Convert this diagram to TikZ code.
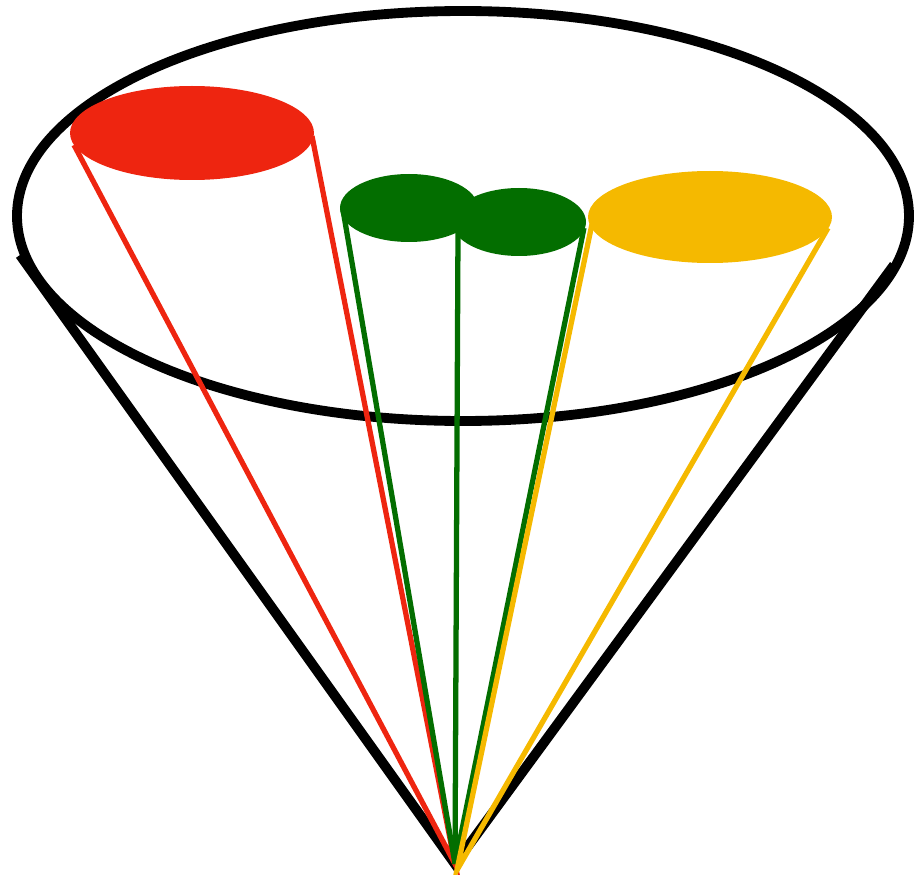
\documentclass[tikz,border=0pt]{standalone}
\usepackage{tikz}
\definecolor{conered}{HTML}{EE2510}
\definecolor{conegreen}{HTML}{036E00}
\definecolor{coneyellow}{HTML}{F5B900}

\begin{document}
\begin{tikzpicture}[
        x=0.02cm, y=-0.02cm,
        rim/.style = {draw=black, line width=5.6pt},
        ray/.style = {line width=3pt},
        blob/.style = {draw=none}
    ]
        \useasboundingbox (0,0) rectangle (914,875);

        % apex and rim
        \coordinate (apex) at (455,864);
        \coordinate (rimL) at (20,255);
        \coordinate (rimR) at (894,265);
        \draw[rim] (463,216) ellipse [x radius=446, y radius=205];
        \draw[rim] (rimL) -- (apex) -- (rimR);

        % red
        \fill[blob, conered] (192,133) ellipse [x radius=122, y radius=47];
        \coordinate (redL) at (74,145);
        \coordinate (redR) at (312,136);
        \draw[ray, conered] (redL) -- (apex) -- (redR);

        % greens
        \fill[blob, conegreen] (409,208) ellipse [x radius=69, y radius=34];
        \fill[blob, conegreen] (519,222) ellipse [x radius=67, y radius=34];
        \coordinate (grnA) at (343,210);
        \coordinate (grnB) at (458,232);
        \coordinate (grnC) at (584,228);
        \draw[ray, conegreen] (grnA) -- (apex);
        \draw[ray, conegreen] (grnB) -- (apex);
        \draw[ray, conegreen] (grnC) -- (apex);

        % yellow
        \fill[blob, coneyellow] (710,217) ellipse [x radius=122, y radius=46];
        \coordinate (ylwL) at (592,224);
        \coordinate (ylwR) at (828,228);
        \draw[ray, coneyellow] (ylwL) -- (457,870) -- (ylwR);
    \end{tikzpicture}
\end{document}
